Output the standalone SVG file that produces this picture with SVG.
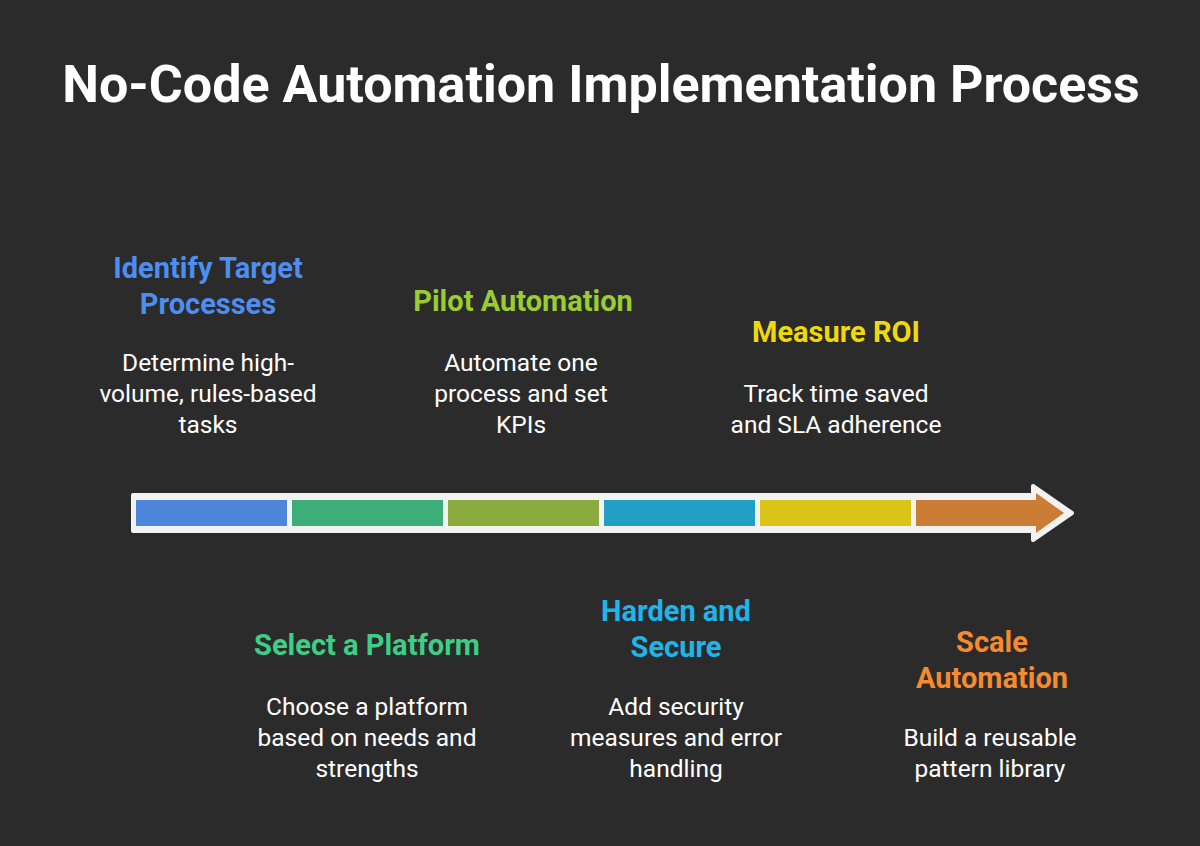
<svg xmlns="http://www.w3.org/2000/svg" width="1200" height="846" viewBox="0 0 1200 846">
<style>
.t{font-family:Roboto,"Liberation Sans",sans-serif;font-weight:bold;font-size:29px;text-anchor:middle}
.d{font-family:Roboto,"Liberation Sans",sans-serif;font-size:24.5px;fill:#ffffff;text-anchor:middle}
</style>
<rect width="1200" height="846" fill="#2b2b2b"/>
<text x="601" y="102" font-family="Roboto,'Liberation Sans',sans-serif" font-weight="bold" font-size="52" fill="#ffffff" text-anchor="middle">No-Code Automation Implementation Process</text>
<g id="connectors">
<path d="M133,495 H1033 V486 L1072,513 L1033,540 V531 H133 Z" fill="#f2f2f2" stroke="#f2f2f2" stroke-width="4" stroke-linejoin="round"/>
<rect x="136" y="500" width="151" height="26" fill="#4e86dc"/>
<rect x="292" y="500" width="151" height="26" fill="#3eae78"/>
<rect x="448" y="500" width="151" height="26" fill="#8bab3e"/>
<rect x="604" y="500" width="151" height="26" fill="#239fc6"/>
<rect x="760" y="500" width="151" height="26" fill="#d9c417"/>
<path d="M916,500 H1036 V493 L1064,513 L1036,533 V526 H916 Z" fill="#cc7d35"/>
</g>
<g id="n1"><text class="t" fill="#4d8ef0" x="208" y="278">Identify Target</text><text class="t" fill="#4d8ef0" x="208" y="314">Processes</text>
<text class="d" x="208" y="371">Determine high-</text><text class="d" x="208" y="402">volume, rules-based</text><text class="d" x="208" y="433">tasks</text></g>
<g id="n2"><text class="t" fill="#3ecf86" x="367" y="655">Select a Platform</text>
<text class="d" x="367" y="715">Choose a platform</text><text class="d" x="367" y="746">based on needs and</text><text class="d" x="367" y="777">strengths</text></g>
<g id="n3"><text class="t" fill="#9acd32" x="523" y="311">Pilot Automation</text>
<text class="d" x="521" y="371">Automate one</text><text class="d" x="521" y="402">process and set</text><text class="d" x="521" y="433">KPIs</text></g>
<g id="n4"><text class="t" fill="#1fb5ea" x="676" y="621">Harden and</text><text class="t" fill="#1fb5ea" x="676" y="657">Secure</text>
<text class="d" x="676" y="715">Add security</text><text class="d" x="676" y="746">measures and error</text><text class="d" x="676" y="777">handling</text></g>
<g id="n5"><text class="t" fill="#f0d80e" x="836" y="342">Measure ROI</text>
<text class="d" x="836" y="402">Track time saved</text><text class="d" x="836" y="433">and SLA adherence</text></g>
<g id="n6"><text class="t" fill="#f58a2e" x="992" y="652">Scale</text><text class="t" fill="#f58a2e" x="992" y="688">Automation</text>
<text class="d" x="990" y="746">Build a reusable</text><text class="d" x="990" y="777">pattern library</text></g>
</svg>
